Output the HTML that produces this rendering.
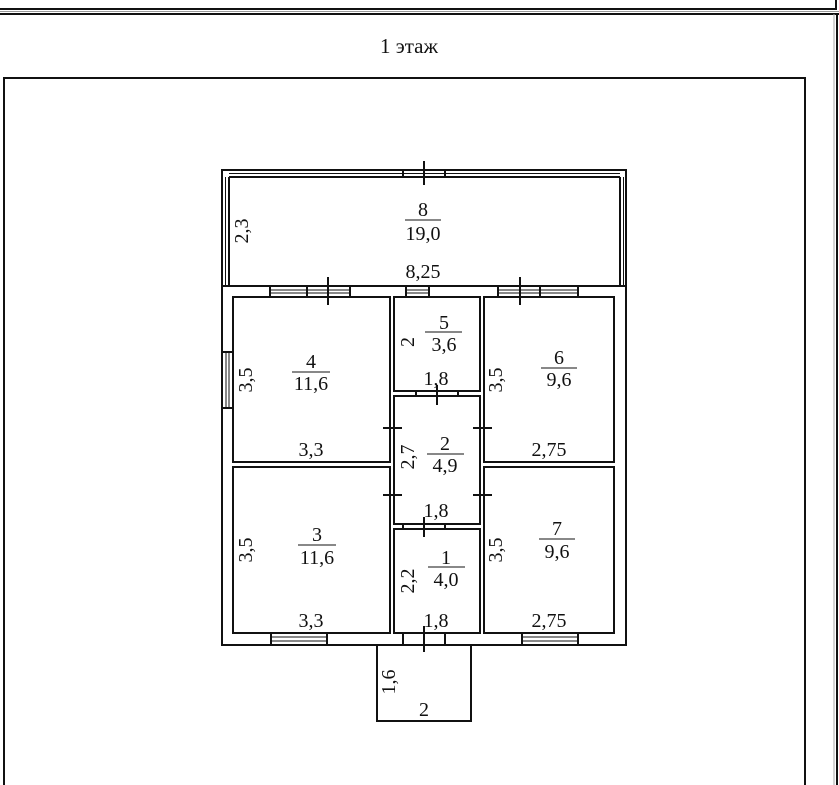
<!DOCTYPE html>
<html><head><meta charset="utf-8"><style>
html,body{margin:0;padding:0;background:#fff;}
svg{display:block;}
text{font-family:"Liberation Serif",serif;font-size:20px;fill:#111;}
</style></head><body>
<svg width="839" height="785" viewBox="0 0 839 785" xmlns="http://www.w3.org/2000/svg">
<g stroke="#111" fill="none">
<line x1="0" y1="9" x2="837" y2="9" stroke-width="2"/>
<line x1="836" y1="0" x2="836" y2="9" stroke-width="2"/>
<line x1="0" y1="11.5" x2="839" y2="11.5" stroke="#999" stroke-width="1"/>
<line x1="0" y1="14" x2="839" y2="14" stroke-width="2"/>
<line x1="834" y1="14" x2="834" y2="785" stroke="#aaa" stroke-width="1"/>
<line x1="837" y1="14" x2="837" y2="785" stroke-width="2"/>
<rect x="4" y="78" width="801" height="720" stroke-width="2"/>
</g>
<text x="409" y="53" text-anchor="middle" style="font-size:21px">1 этаж</text>

<g stroke="#111" stroke-width="2" fill="none">
<rect x="222" y="170" width="404" height="475"/>
<line x1="222" y1="286" x2="626" y2="286"/>
<line x1="229" y1="177" x2="620" y2="177"/>
<line x1="229" y1="173.5" x2="620" y2="173.5" stroke-width="1"/>
<line x1="229" y1="177" x2="229" y2="286"/>
<line x1="225.5" y1="177" x2="225.5" y2="286" stroke-width="1"/>
<line x1="620" y1="177" x2="620" y2="286"/>
<line x1="623.5" y1="177" x2="623.5" y2="286" stroke-width="1"/>
<rect x="403" y="170" width="42" height="7"/>
<line x1="424" y1="161" x2="424" y2="185"/>
<rect x="233" y="297" width="157" height="165"/>
<rect x="394" y="297" width="86" height="94"/>
<rect x="484" y="297" width="130" height="165"/>
<rect x="394" y="396" width="86" height="128"/>
<rect x="233" y="467" width="157" height="166"/>
<rect x="394" y="529" width="86" height="104"/>
<rect x="484" y="467" width="130" height="166"/>
<polyline points="377,645 377,721 471,721 471,645"/>
<rect x="270" y="286" width="80" height="11"/>
<line x1="270" y1="290" x2="350" y2="290" stroke-width="1"/>
<line x1="270" y1="293" x2="350" y2="293" stroke-width="1"/>
<line x1="307" y1="286" x2="307" y2="297"/>
<line x1="328" y1="277" x2="328" y2="305"/>
<rect x="406" y="286" width="23" height="11"/>
<line x1="406" y1="290" x2="429" y2="290" stroke-width="1"/>
<line x1="406" y1="293" x2="429" y2="293" stroke-width="1"/>
<rect x="498" y="286" width="80" height="11"/>
<line x1="498" y1="290" x2="578" y2="290" stroke-width="1"/>
<line x1="498" y1="293" x2="578" y2="293" stroke-width="1"/>
<line x1="540" y1="286" x2="540" y2="297"/>
<line x1="520" y1="277" x2="520" y2="305"/>
<rect x="222" y="352" width="11" height="56"/>
<line x1="226" y1="352" x2="226" y2="408" stroke-width="1"/>
<line x1="229" y1="352" x2="229" y2="408" stroke-width="1"/>
<rect x="271" y="633" width="56" height="12"/>
<line x1="271" y1="637" x2="327" y2="637" stroke-width="1"/>
<line x1="271" y1="641" x2="327" y2="641" stroke-width="1"/>
<rect x="522" y="633" width="56" height="12"/>
<line x1="522" y1="637" x2="578" y2="637" stroke-width="1"/>
<line x1="522" y1="641" x2="578" y2="641" stroke-width="1"/>
<rect x="403" y="633" width="42" height="12"/>
<line x1="424" y1="626" x2="424" y2="652"/>
<rect x="416" y="391" width="42" height="5"/>
<line x1="437" y1="385" x2="437" y2="405"/>
<rect x="403" y="524" width="42" height="5"/>
<line x1="424" y1="517" x2="424" y2="537"/>
<line x1="390" y1="407" x2="390" y2="449"/><line x1="394" y1="407" x2="394" y2="449"/>
<line x1="383" y1="428" x2="402" y2="428"/>
<line x1="390" y1="474" x2="390" y2="517"/><line x1="394" y1="474" x2="394" y2="517"/>
<line x1="383" y1="495" x2="402" y2="495"/>
<line x1="480" y1="407" x2="480" y2="449"/><line x1="484" y1="407" x2="484" y2="449"/>
<line x1="473" y1="428" x2="492" y2="428"/>
<line x1="480" y1="474" x2="480" y2="517"/><line x1="484" y1="474" x2="484" y2="517"/>
<line x1="473" y1="495" x2="492" y2="495"/>
<line x1="405" y1="220" x2="441" y2="220" stroke-width="1"/>
<line x1="425" y1="332" x2="462" y2="332" stroke-width="1"/>
<line x1="292" y1="372" x2="330" y2="372" stroke-width="1"/>
<line x1="541" y1="368" x2="577" y2="368" stroke-width="1"/>
<line x1="427" y1="454" x2="464" y2="454" stroke-width="1"/>
<line x1="298" y1="545" x2="336" y2="545" stroke-width="1"/>
<line x1="539" y1="539" x2="575" y2="539" stroke-width="1"/>
<line x1="428" y1="567" x2="465" y2="567" stroke-width="1"/>
</g>

<g text-anchor="middle">
<text x="423" y="216">8</text><text x="423" y="240">19,0</text>
<text x="423" y="278">8,25</text>
<text x="444" y="329">5</text><text x="444" y="351">3,6</text>
<text x="311" y="368">4</text><text x="311" y="390">11,6</text>
<text x="559" y="364">6</text><text x="559" y="386">9,6</text>
<text x="436" y="385">1,8</text>
<text x="311" y="456">3,3</text>
<text x="549" y="456">2,75</text>
<text x="445" y="450">2</text><text x="445" y="472">4,9</text>
<text x="436" y="517">1,8</text>
<text x="317" y="541">3</text><text x="317" y="564">11,6</text>
<text x="557" y="535">7</text><text x="557" y="558">9,6</text>
<text x="446" y="564">1</text><text x="446" y="586">4,0</text>
<text x="311" y="627">3,3</text>
<text x="436" y="627">1,8</text>
<text x="549" y="627">2,75</text>
<text x="424" y="716">2</text>
</g>
<g text-anchor="middle">
<text transform="translate(248,231) rotate(-90)">2,3</text>
<text transform="translate(414,342) rotate(-90)">2</text>
<text transform="translate(252,380) rotate(-90)">3,5</text>
<text transform="translate(502,380) rotate(-90)">3,5</text>
<text transform="translate(414,457) rotate(-90)">2,7</text>
<text transform="translate(252,550) rotate(-90)">3,5</text>
<text transform="translate(502,550) rotate(-90)">3,5</text>
<text transform="translate(414,581) rotate(-90)">2,2</text>
<text transform="translate(395,682) rotate(-90)">1,6</text>
</g>
</svg>
</body></html>
